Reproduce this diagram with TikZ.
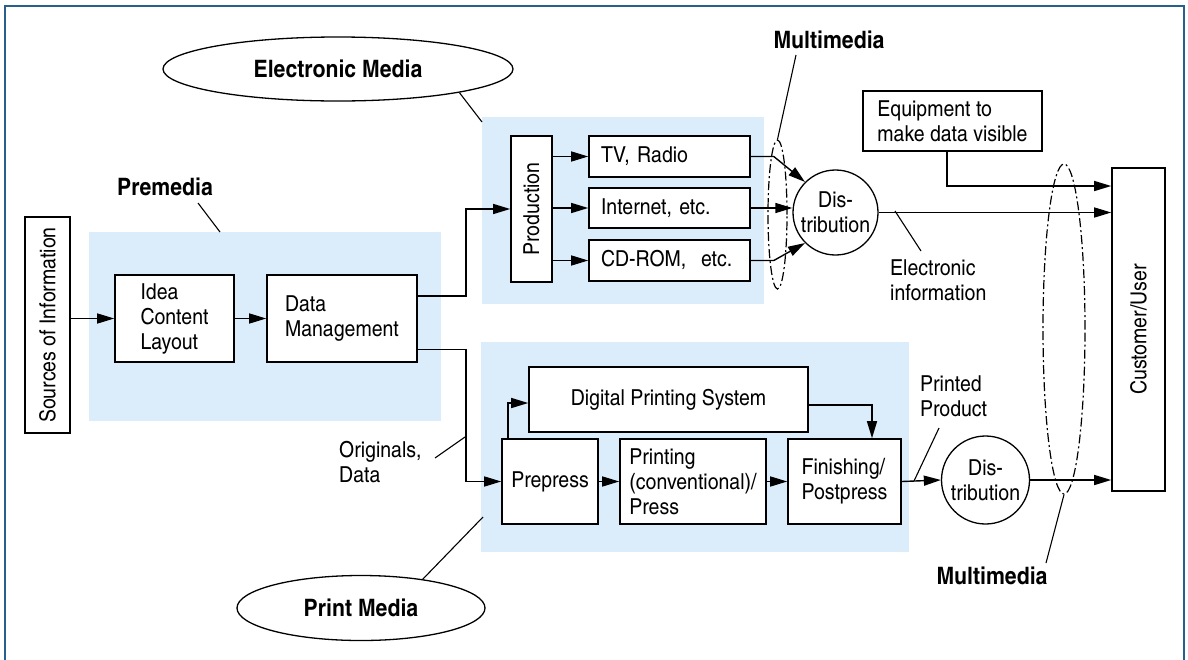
\documentclass[tikz,border=0pt]{standalone}
\usepackage{fontspec}
\setmainfont{texgyreheroscn}[Extension=.otf, UprightFont=*-regular, BoldFont=*-bold, FakeStretch=1.08]
\usetikzlibrary{shapes.geometric,arrows.meta}
\definecolor{framecol}{RGB}{40,95,140}
\definecolor{areafill}{RGB}{219,237,251}
\begin{document}
\begin{tikzpicture}[x=1pt,y=-1pt,
  txt/.style={font=\fontsize{22}{25}\selectfont, inner sep=0pt},
  box/.style={txt, draw, line width=1.6pt, fill=white, align=left},
  area/.style={fill=areafill, inner sep=0pt},
  lbl/.style={font=\bfseries\fontsize{24}{27}\selectfont, inner sep=0pt},
  oval/.style={ellipse, draw, line width=1.3pt, fill=white, inner sep=0pt, lbl},
  disc/.style={txt, circle, draw, line width=1.3pt, fill=white, minimum size=85pt, align=center},
  mm/.style={ellipse, draw, line width=1.2pt, dash pattern=on 9pt off 3pt on 2pt off 3pt, inner sep=0pt},
  arr/.style={line width=1.4pt, -{Triangle[length=17pt,width=10pt]}},
  lead/.style={line width=1.1pt},
]
\useasboundingbox (0,0) rectangle (1188,659);
\draw[framecol, line width=1.5pt] (5,680) -- (5,6) -- (1184,6) -- (1184,680);

% shaded areas
\node[area, minimum width=352pt, minimum height=189pt] (premA) at (265,326.5) {};
\node[area, minimum width=282pt, minimum height=187pt] (elecA) at (623,210.5) {};
\node[area, minimum width=428pt, minimum height=210pt] (printA) at (695,447) {};

% labels
\node[oval, minimum width=350pt, minimum height=64pt] (elecM) at (338,69) {Electronic Media};
\node[oval, minimum width=248pt, minimum height=65pt] (printM) at (361,608) {Print Media};
\node[lbl] (premT) at (165,187) {Premedia};
\node[lbl] (mmTop) at (829,40) {Multimedia};
\node[lbl] (mmBot) at (992,576) {Multimedia};
\node[txt, anchor=west, align=left] (einfo) at (890,280) {Electronic\\information};
\node[txt, anchor=west, align=left] (pprod) at (920,396) {Printed\\Product};
\node[txt, anchor=west, align=left] (orig) at (339,462) {Originals,\\Data};

% boxes
\node[box, minimum width=45pt, minimum height=216pt] (src) at (47.5,325) {};
\node[txt, rotate=90] (srcT) at (src.center) {Sources of Information};
\node[box, minimum width=119pt, minimum height=87pt] (idea) at (174.5,318.5) {Idea\\Content\\Layout};
\node[box, minimum width=150pt, minimum height=87pt] (data) at (342,318.5) {Data\\Management};
\node[box, minimum width=41pt, minimum height=146pt] (prod) at (531.5,209) {};
\node[txt, rotate=90] (prodT) at (prod.center) {Production};
\node[box, minimum width=161pt, minimum height=41pt, text width=137pt] (tv) at (669.5,156.5) {TV, Radio};
\node[box, minimum width=161pt, minimum height=40pt, text width=137pt] (inet) at (669.5,208) {Internet, etc.};
\node[box, minimum width=161pt, minimum height=41pt, text width=137pt] (cd) at (669.5,260.5) {CD-ROM,~ etc.};
\node[disc] (dist1) at (835.5,212.5) {Dis-\\tribution};
\node[box, minimum width=179pt, minimum height=60pt] (equip) at (952.5,121) {Equipment to\\make data visible};
\node[box, minimum width=53pt, minimum height=323pt] (cust) at (1138.5,329.5) {};
\node[txt, rotate=90] (custT) at (cust.center) {Customer/User};
\node[box, minimum width=279pt, minimum height=65pt, align=center] (dps) at (668.5,399.5) {Digital Printing System};
\node[box, minimum width=96pt, minimum height=85pt] (prepress) at (550,481.5) {Prepress};
\node[box, minimum width=146pt, minimum height=85pt] (printing) at (693,481.5) {Printing\\(conventional)/\\Press};
\node[box, minimum width=113pt, minimum height=85pt] (finish) at (844.5,481.5) {Finishing/\\Postpress};
\node[disc, minimum size=88pt] (dist2) at (985.5,480) {Dis-\\tribution};

% multimedia ellipses
\node[mm, minimum width=19pt, minimum height=149pt] (smallE) at (777.5,214.5) {};
\node[mm, minimum width=42pt, minimum height=330pt] (bigE) at (1064,329) {};

% connectors
\draw[arr] (src.east |- idea.west) -- (idea.west);
\draw[arr] (idea.east) -- (data.west);
\draw[arr] ([yshift=22.5pt]data.east) -- ++(48pt,0) |- (prod.west);
\draw[arr] ([yshift=-31pt]data.east) -- ++(48pt,0) |- (prepress.west);
\draw[arr] (prod.east |- tv.west) -- (tv.west);
\draw[arr] (prod.east |- inet.west) -- (inet.west);
\draw[arr] (prod.east |- cd.west) -- (cd.west);
\draw[arr] (tv.east) -- ++(23pt,0) -- (dist1.135);
\draw[arr] (inet.east) -- (dist1.west |- inet.east);
\draw[arr] (cd.east) -- ++(23pt,0) -- (dist1.225);
\draw[arr] (dist1.east) -- (dist1.east -| cust.west);
\draw[arr] ([xshift=-5.5pt]equip.south) |- (cust.west |- 0,186);
\draw[arr] ([xshift=-42pt]prepress.north) |- ([yshift=-3.5pt]dps.west);
\draw[arr] (prepress.east) -- (printing.west);
\draw[arr] (printing.east) -- (finish.west);
\draw[arr] ([yshift=-5.5pt]dps.east) -| ([xshift=27.5pt]finish.north);
\draw[arr] (finish.east) -- (dist2.west);
\draw[arr] (dist2.east) -- (dist2.east -| cust.west);

% leader lines
\coordinate (l1a) at (198,203); \coordinate (l1b) at (220,232);
\draw[lead] (l1a) -- (l1b);
\coordinate (l2b) at (482,122);
\draw[lead] (elecM.-11.6) -- (l2b);
\coordinate (l3b) at (483,517);
\draw[lead] (printM.25) -- (l3b);
\coordinate (l4a) at (796,55);
\draw[lead] (l4a) -- (smallE.north);
\coordinate (l5a) at (1046,563);
\draw[lead] (l5a) -- (bigE.south);
\coordinate (l6a) at (895,211); \coordinate (l6b) at (921,251);
\draw[lead] (l6a) -- (l6b);
\coordinate (l7a) at (939,428); \coordinate (l7b) at (914,481);
\draw[lead] (l7a) -- (l7b);
\coordinate (l8a) at (435,458); \coordinate (l8b) at (465,437);
\draw[lead] (l8a) -- (l8b);
\end{tikzpicture}
\end{document}
